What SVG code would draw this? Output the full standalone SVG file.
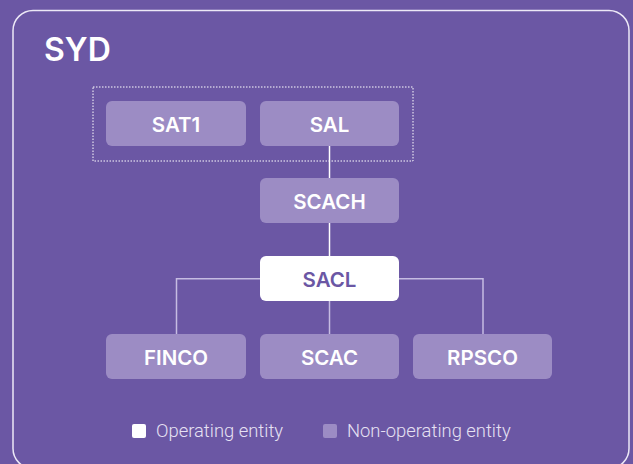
<svg xmlns="http://www.w3.org/2000/svg" width="633" height="464" viewBox="0 0 633 464">
<style>
.bg{fill:#6b57a4}
.frame{fill:none;stroke:#ece8f6;stroke-width:1.5}
.node{fill:#9c8cc4}
.op{fill:#ffffff}
.lbl{font-family:Inter,"Noto Sans",sans-serif;font-weight:600;font-size:20.5px;fill:#ffffff;text-anchor:middle}
.lbl.dark{fill:#6b57a4}
.title{font-family:Inter,"Noto Sans",sans-serif;font-weight:600;font-size:32px;fill:#ffffff}
.leg{font-family:Roboto,"Noto Sans",sans-serif;font-weight:300;font-size:18.4px;fill:#e6e1f3}
.main{stroke:#ffffff;stroke-width:1.5;fill:none}
.branch{stroke:#c6bce2;stroke-width:1.5;fill:none}
.group{fill:none;stroke:#ffffff;stroke-width:1;stroke-dasharray:1.5 1.5}
</style>
<rect class="bg" x="0" y="0" width="633" height="464"/>
<rect class="frame" x="13" y="10.5" width="616" height="458" rx="20"/>
<text class="title" x="44" y="60.5">SYD</text>
<rect class="group" x="93" y="87" width="320" height="74"/>
<g id="connectors">
<line class="main" x1="329.5" y1="146" x2="329.5" y2="178"/>
<line class="main" x1="329.5" y1="223" x2="329.5" y2="256"/>
<line class="branch" x1="329.5" y1="301" x2="329.5" y2="334"/>
<polyline class="branch" points="260,278.7 176.5,278.7 176.5,334"/>
<polyline class="branch" points="399,278.7 483,278.7 483,334"/>
</g>
<g id="SAT1"><rect class="node" x="106" y="101" width="140" height="45" rx="6"/><text class="lbl" x="176" y="131.5">SAT1</text></g>
<g id="SAL"><rect class="node" x="260" y="101" width="139" height="45" rx="6"/><text class="lbl" x="329.5" y="131.5">SAL</text></g>
<g id="SCACH"><rect class="node" x="260" y="178" width="139" height="45" rx="6"/><text class="lbl" x="329.5" y="208.5">SCACH</text></g>
<g id="SACL"><rect class="op" x="260" y="256" width="139" height="45" rx="6"/><text class="lbl dark" x="329.5" y="286.5">SACL</text></g>
<g id="FINCO"><rect class="node" x="106" y="334" width="140" height="45" rx="6"/><text class="lbl" x="176" y="364.5">FINCO</text></g>
<g id="SCAC"><rect class="node" x="260" y="334" width="139" height="45" rx="6"/><text class="lbl" x="329.5" y="364.5">SCAC</text></g>
<g id="RPSCO"><rect class="node" x="413" y="334" width="139" height="45" rx="6"/><text class="lbl" x="482.5" y="364.5">RPSCO</text></g>
<g id="legend">
<rect class="op" x="132" y="424" width="14" height="14" rx="2"/>
<text class="leg" x="156" y="437">Operating entity</text>
<rect class="node" x="323" y="424" width="14" height="14" rx="2"/>
<text class="leg" x="347" y="437">Non-operating entity</text>
</g>
</svg>
